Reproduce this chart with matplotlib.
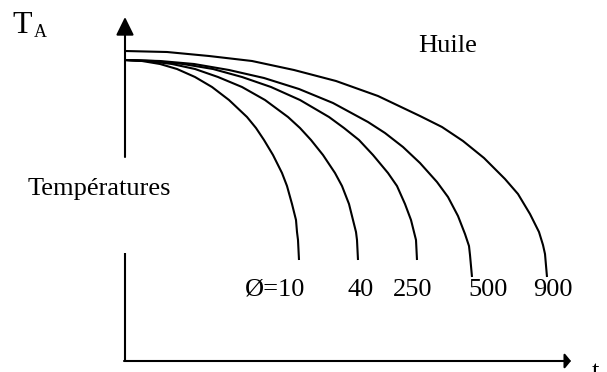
import matplotlib
matplotlib.use('Agg')
import matplotlib.pyplot as plt

plt.rcParams['font.family'] = ['Liberation Serif', 'DejaVu Serif']

# Cooling curves (time t, temperature T)
t_10 = [0, 17, 35, 52, 70, 87, 104, 122, 131, 139, 148, 157, 162, 167, 171, 172, 173, 174]
T_10 = [301, 300, 297, 292, 284, 274, 261, 244, 233, 221, 206, 188, 175, 157, 141, 129, 121, 101]

t_40 = [0, 23, 47, 70, 93, 117, 140, 163, 175, 186, 198, 210, 217, 224, 228, 231, 232, 233]
T_40 = [301, 300, 297, 292, 284, 274, 261, 244, 233, 221, 206, 188, 175, 157, 141, 129, 121, 101]

t_250 = [0, 29, 58, 88, 117, 146, 175, 204, 219, 234, 248, 263, 272, 280, 286, 289, 291, 292]
T_250 = [301, 300, 297, 292, 284, 274, 261, 244, 233, 221, 206, 188, 175, 157, 141, 129, 121, 101]

t_500 = [0, 35, 69, 104, 139, 174, 208, 243, 260, 278, 295, 312, 323, 333, 340, 344, 345, 347]
T_500 = [301, 300, 297, 291, 283, 272, 258, 239, 228, 214, 198, 179, 164, 145, 127, 115, 106, 84]

t_900 = [0, 42, 84, 127, 169, 211, 253, 295, 317, 338, 359, 380, 393, 405, 414, 418, 420, 422]
T_900 = [310, 309, 305, 300, 291, 280, 265, 245, 234, 220, 203, 182, 167, 147, 129, 116, 107, 84]

curves = [(t_10, T_10), (t_40, T_40), (t_250, T_250), (t_500, T_500), (t_900, T_900)]
diam_labels = ['Ø=10', '40', '250', '500', '900']
label_x = [120, 222, 268, 343, 408]

fig = plt.figure(figsize=(6.07, 3.72), dpi=100)
ax = fig.add_axes([0, 0, 1, 1])
ax.set_xlim(-125, 482)
ax.set_ylim(-11, 361)
ax.axis('off')

lw = 1.5
# curves
for t, T in curves:
    ax.plot(t, T, color='black', lw=lw, solid_capstyle='butt', solid_joinstyle='round')

# vertical axis (broken around the label)
ax.plot([0, 0], [0, 108], color='black', lw=lw, solid_capstyle='butt')
ax.annotate('', xy=(0, 344), xytext=(0, 204),
            arrowprops=dict(arrowstyle='-|>,head_length=0.55,head_width=0.27',
                            mutation_scale=20, lw=lw, color='black',
                            shrinkA=0, shrinkB=0))
# horizontal axis
ax.annotate('', xy=(446, 0), xytext=(-1, 0),
            arrowprops=dict(arrowstyle='-|>,head_length=0.37,head_width=0.45',
                            mutation_scale=10, lw=lw, color='black',
                            shrinkA=0, shrinkB=0))

# texts
ax.text(-113, 328, 'T', fontsize=23, va='baseline', ha='left')
ax.text(-91, 324, 'A', fontsize=13, va='baseline', ha='left')
ax.text(293, 309, 'Huile', fontsize=19, va='baseline', ha='left')
ax.text(-97, 166, 'Températures', fontsize=19, va='baseline', ha='left')
ax.text(467, -17, 't', fontsize=19, va='baseline', ha='left')

for lab, x in zip(diam_labels, label_x):
    ax.text(x, 65, lab, fontsize=19, va='baseline', ha='left')

fig.savefig('out.png', dpi=100)
